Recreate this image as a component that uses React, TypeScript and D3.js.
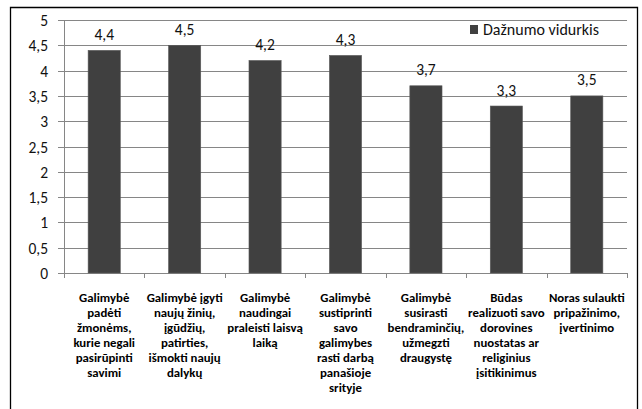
import React from "react";
import * as d3 from "d3";

const categories: string[][] = [
  ["Galimybė", "padėti", "žmonėms,", "kurie negali", "pasirūpinti", "savimi"],
  ["Galimybė įgyti", "naujų žinių,", "įgūdžių,", "patirties,", "išmokti naujų", "dalykų"],
  ["Galimybė", "naudingai", "praleisti laisvą", "laiką"],
  ["Galimybė", "sustiprinti", "savo", "galimybes", "rasti darbą", "panašioje", "srityje"],
  ["Galimybė", "susirasti", "bendraminčių,", "užmegzti", "draugystę"],
  ["Būdas", "realizuoti savo", "dorovines", "nuostatas ar", "religinius", "įsitikinimus"],
  ["Noras sulaukti", "pripažinimo,", "įvertinimo"],
];
const values: number[] = [4.4, 4.5, 4.2, 4.3, 3.7, 3.3, 3.5];
const yTicks: number[] = [0, 0.5, 1, 1.5, 2, 2.5, 3, 3.5, 4, 4.5, 5];
const seriesName = "Dažnumo vidurkis";

const W = 642;
const H = 409;
const FONT = "Calibri, Carlito, Lato, 'Open Sans', sans-serif";
const fmt = (v: number) => String(v).replace(".", ",");

export default function App() {
  const x0 = 64, x1 = 627, y0 = 273, y1 = 20;
  const x = d3.scaleBand<number>().domain(d3.range(values.length)).range([x0, x1]).paddingInner(0.6).paddingOuter(0.3);
  const band = d3.scaleBand<number>().domain(d3.range(values.length)).range([x0, x1]);
  const y = d3.scaleLinear().domain([0, 5]).range([y0, y1]);
  const grid = "#868686";

  return (
    <svg width={W} height={H} style={{ position: "absolute", left: 0, top: 0, background: "#fff" }} fontFamily={FONT}>
      <rect x={0} y={0} width={W} height={H} fill="#fff" />
      {/* outer border */}
      <path d={`M10.5,${H} V7.5 H637.5 V${H}`} fill="none" stroke="#000" strokeWidth={1.3} />
      {/* gridlines */}
      {yTicks.map((t) => (
        <line key={"g" + t} x1={x0 - 6} x2={x1} y1={Math.round(y(t)) + 0.5} y2={Math.round(y(t)) + 0.5} stroke={grid} strokeWidth={1} />
      ))}
      {/* y tick labels */}
      {yTicks.map((t) => (
        <text key={"yl" + t} x={48} y={Math.round(y(t)) + 5.5} textAnchor="end" fontSize={15.5} fill="#111">
          {fmt(t)}
        </text>
      ))}
      {/* y axis */}
      <line x1={x0 + 0.5} x2={x0 + 0.5} y1={y1} y2={y0} stroke={grid} strokeWidth={1} />
      {/* x ticks */}
      {d3.range(values.length + 1).map((i) => {
        const xx = i < values.length ? band(i)! : x1;
        return <line key={"xt" + i} x1={Math.round(xx) + 0.5} x2={Math.round(xx) + 0.5} y1={y0} y2={y0 + 5} stroke={grid} />;
      })}
      {/* bars */}
      {values.map((v, i) => (
        <rect key={"b" + i} x={x(i)!} y={y(v)} width={x.bandwidth()} height={y0 - y(v)} fill="#404040" stroke="#5a5a5a" strokeWidth={0.6} />
      ))}
      {/* value labels */}
      {values.map((v, i) => (
        <text key={"v" + i} x={x(i)! + x.bandwidth() / 2} y={y(v) - 10.5} textAnchor="middle" fontSize={15.5} fill="#111">
          {fmt(v)}
        </text>
      ))}
      {/* category labels */}
      {categories.map((lines, i) => (
        <text key={"c" + i} textAnchor="middle" fontSize={12.8} fontWeight="bold" fill="#000">
          {lines.map((l, j) => (
            <tspan key={j} x={band(i)! + band.bandwidth() / 2} y={301.5 + j * 15}>
              {l}
            </tspan>
          ))}
        </text>
      ))}
      {/* legend */}
      <rect x={458} y={21} width={158} height={20} fill="#fff" />
      <rect x={470} y={25} width={8} height={9} fill="#404040" />
      <text x={483} y={35} fontSize={16} fill="#111">
        {seriesName}
      </text>
    </svg>
  );
}
